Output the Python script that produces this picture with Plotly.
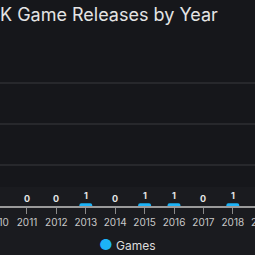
import plotly.graph_objects as go

years = [2010, 2011, 2012, 2013, 2014, 2015, 2016, 2017, 2018, 2019]
games = [0, 0, 0, 1, 0, 1, 1, 0, 1, 0]
title_text = "K Game Releases by Year"
series_name = "Games"

x_range = [2010.082, 2018.755]
y_range = [0, 60]

BAR = "#1cb3f7"
FONT = "Inter"

fig = go.Figure()
fig.add_trace(go.Bar(
    x=years, y=games, name=series_name, showlegend=False,
    marker=dict(color=BAR, line=dict(width=0), cornerradius=2),
    width=0.44, cliponaxis=True,
))

# value labels above each bar
for yr, v in zip(years, games):
    fig.add_annotation(
        x=yr, y=v, xref="x", yref="y", yanchor="bottom", yshift=0,
        text=str(v), showarrow=False,
        font=dict(family=FONT, size=9, color="#e6e6e6", weight="bold"),
    )

# partial tick labels for the years cut by the edges
span = x_range[1] - x_range[0]
for yr in years:
    if yr < x_range[0] or yr > x_range[1]:
        fig.add_annotation(
            x=(yr - x_range[0]) / span, xref="paper", xanchor="center",
            y=0, yref="paper", yshift=-8, yanchor="top",
            text=str(yr), showarrow=False,
            font=dict(family=FONT, size=10, color="#c4c4c4"),
        )

# legend entry
fig.add_annotation(
    x=0.5, xref="paper", xanchor="center",
    y=(206 - 244) / 164, yref="paper", yanchor="middle",
    text=f"<span style='color:{BAR};font-size:15px'>●</span> {series_name}",
    showarrow=False,
    font=dict(family=FONT, size=12, color="#dcdcdc"),
)

# lighter lower band of the background
fig.add_shape(type="rect", xref="paper", yref="paper",
              x0=-0.01, x1=1.01, y0=-0.35, y1=(206 - 187) / 164,
              fillcolor="#1a1b1f", line=dict(width=0), layer="below")

fig.update_layout(
    width=255, height=255, autosize=False,
    margin=dict(l=0, r=0, t=42, b=49, pad=0),
    paper_bgcolor="#16171b", plot_bgcolor="#16171b",
    title=dict(text=title_text, x=0.0, xref="container", xanchor="left",
               y=1 - 15 / 255, yref="container", yanchor="middle",
               font=dict(family=FONT, size=18, color="#e4e4e4")),
    xaxis=dict(range=x_range, tickmode="array", tickvals=years,
               ticktext=[str(y) for y in years],
               showgrid=False, showline=True, linecolor="#9a9a9a", linewidth=1.5,
               ticks="outside", ticklen=6, tickcolor="#8a8a8a", tickwidth=1,
               tickfont=dict(family=FONT, size=10, color="#c8c8c8"),
               zeroline=False, fixedrange=True),
    yaxis=dict(range=y_range, dtick=15, showticklabels=False,
               showgrid=True, gridcolor="#27282c", gridwidth=1.5,
               zeroline=False, showline=False, fixedrange=True),
    showlegend=False,
)

fig.write_html("out.html")
